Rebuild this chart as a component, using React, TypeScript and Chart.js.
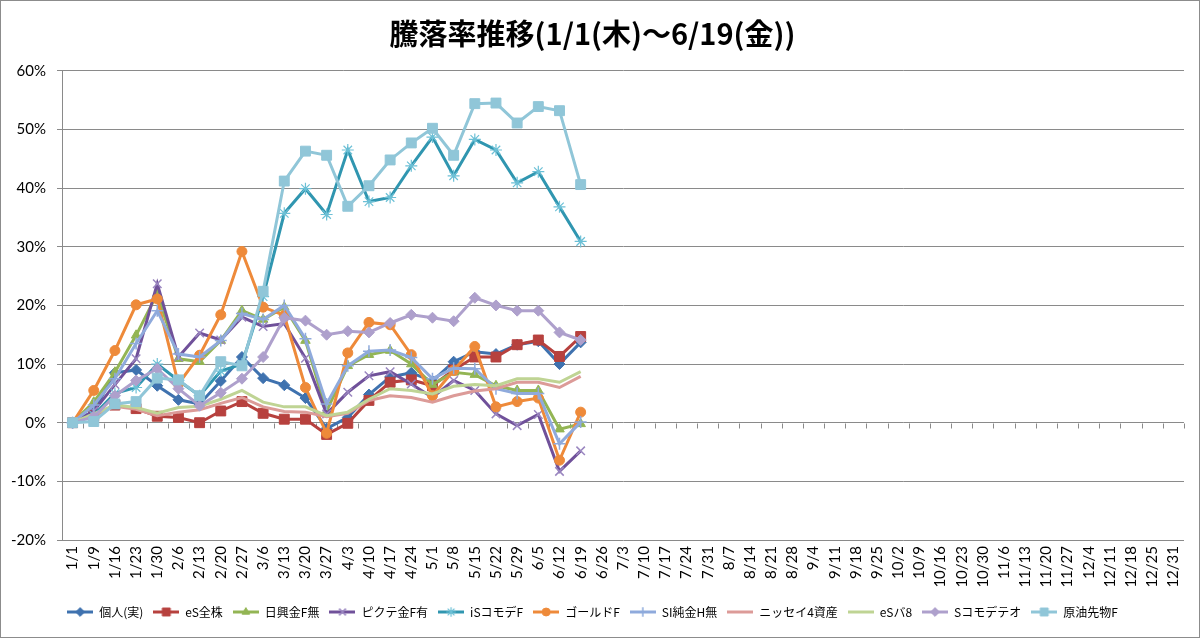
import { useEffect, useRef } from 'react'
import { Chart, registerables } from 'chart.js'
import { drawPoint } from 'chart.js/helpers'

Chart.register(...registerables)

const TITLE = '騰落率推移(1/1(木)～6/19(金))'

const WEEKS = [
  '1/1', '1/9', '1/16', '1/23', '1/30', '2/6', '2/13', '2/20', '2/27', '3/6', '3/13', '3/20', '3/27',
  '4/3', '4/10', '4/17', '4/24', '5/1', '5/8', '5/15', '5/22', '5/29', '6/5', '6/12', '6/19', '6/26',
  '7/3', '7/10', '7/17', '7/24', '7/31', '8/7', '8/14', '8/21', '8/28', '9/4', '9/11', '9/18', '9/25',
  '10/2', '10/9', '10/16', '10/23', '10/30', '11/6', '11/13', '11/20', '11/27', '12/4', '12/11', '12/18',
  '12/25', '12/31',
]

const Y_TICKS = { min: -20, max: 60, step: 10 }

// values in %, 1/1 .. 6/19
const KOJIN = [0, 2.0, 8.5, 9.0, 6.3, 3.9, 3.2, 7.1, 11.2, 7.6, 6.4, 4.2, -1.0, 0.9, 4.8, 7.8, 8.5, 7.1, 10.4, 12.1, 11.7, 13.3, 13.9, 10.0, 13.7]
const ES_ZENKABU = [0, 1.2, 3.0, 2.4, 1.1, 0.9, 0.0, 2.0, 3.6, 1.6, 0.6, 0.6, -2.0, -0.1, 3.8, 6.9, 7.3, 6.3, 9.0, 11.2, 11.2, 13.3, 14.1, 11.3, 14.7]
const NIKKO_KIN = [0, 3.5, 8.6, 14.9, 22.0, 10.9, 10.4, 14.0, 19.1, 17.6, 19.7, 14.0, 2.0, 9.7, 11.6, 12.3, 10.0, 6.5, 8.6, 8.2, 6.3, 5.5, 5.5, -1.1, -0.2]
const PICTET_KIN = [0, 2.0, 6.5, 10.9, 23.7, 11.2, 15.3, 14.1, 18.0, 16.4, 16.9, 11.0, 1.5, 5.2, 8.0, 8.7, 6.6, 4.3, 7.2, 5.5, 1.5, -0.5, 1.4, -8.3, -4.8]
const IS_COMMO = [0, 1.3, 5.0, 6.0, 10.0, 7.2, 4.6, 8.8, 10.0, 21.5, 35.7, 39.9, 35.5, 46.5, 37.7, 38.4, 43.8, 48.7, 42.1, 48.3, 46.5, 40.9, 42.8, 36.8, 30.9]
const GOLD = [0, 5.5, 12.3, 20.1, 21.1, 6.6, 11.5, 18.4, 29.2, 19.7, 18.3, 6.0, -1.8, 11.9, 17.1, 16.7, 11.6, 4.6, 8.9, 13.0, 2.7, 3.6, 4.2, -6.4, 1.8]
const SI_JUNKIN = [0, 3.0, 7.5, 13.5, 19.1, 11.7, 11.2, 14.0, 18.6, 17.6, 20.0, 14.3, 3.2, 9.7, 12.2, 12.4, 11.1, 7.5, 9.3, 9.2, 5.8, 5.0, 5.0, -3.6, 0.1]
const NISSAY_4 = [0, 1.3, 2.8, 2.3, 1.2, 1.8, 2.2, 3.3, 4.3, 2.7, 1.9, 1.8, 1.0, 1.6, 3.8, 4.6, 4.3, 3.5, 4.6, 5.4, 5.8, 6.9, 6.9, 6.0, 7.9]
const ES_BAL8 = [0, 1.5, 3.0, 2.6, 1.6, 2.6, 2.8, 4.0, 5.5, 3.5, 2.7, 2.7, 1.2, 1.8, 4.0, 5.8, 5.5, 4.9, 6.2, 6.5, 6.3, 7.5, 7.5, 6.9, 8.7]
const S_COMMO_TEO = [0, 1.0, 4.6, 7.2, 9.2, 5.8, 2.9, 5.1, 7.5, 11.2, 17.9, 17.4, 15.0, 15.6, 15.4, 17.0, 18.4, 17.9, 17.3, 21.3, 20.0, 19.1, 19.1, 15.4, 14.1]
const OIL = [0, 0.2, 3.2, 3.6, 7.6, 7.3, 4.6, 10.4, 9.7, 22.4, 41.2, 46.3, 45.6, 36.9, 40.4, 44.8, 47.7, 50.2, 45.6, 54.4, 54.5, 51.1, 53.9, 53.2, 40.6]

const SERIES = [
  { name: '個人(実)', data: KOJIN },
  { name: 'eS全株', data: ES_ZENKABU },
  { name: '日興金F無', data: NIKKO_KIN },
  { name: 'ピクテ金F有', data: PICTET_KIN },
  { name: 'iSコモデF', data: IS_COMMO },
  { name: 'ゴールドF', data: GOLD },
  { name: 'SI純金H無', data: SI_JUNKIN },
  { name: 'ニッセイ4資産', data: NISSAY_4 },
  { name: 'eSバ8', data: ES_BAL8 },
  { name: 'Sコモデテオ', data: S_COMMO_TEO },
  { name: '原油先物F', data: OIL },
]

// line colour, marker shape, marker radius, marker outline
const STYLES = [
  { color: '#3f72af', marker: 'rectRot', r: 5.5, edge: '#3f72af', ew: 1 },
  { color: '#b7413e', marker: 'rect', r: 7, edge: '#b7413e', ew: 1 },
  { color: '#93b554', marker: 'triangle', r: 5.5, edge: '#93b554', ew: 1 },
  { color: '#70519a', marker: 'crossRot', r: 6, edge: '#9a86c0', ew: 1.5 },
  { color: '#3096b0', marker: 'star', r: 6, edge: '#6cc0d6', ew: 1.2 },
  { color: '#ee8a3a', marker: 'circle', r: 5, edge: '#ee8a3a', ew: 1 },
  { color: '#8faadc', marker: 'cross', r: 6, edge: '#8faadc', ew: 1.5 },
  { color: '#dc9b98', marker: null, r: 0, edge: '#dc9b98', ew: 0 },
  { color: '#bfd494', marker: null, r: 0, edge: '#bfd494', ew: 0 },
  { color: '#aea0cc', marker: 'rectRot', r: 5.5, edge: '#aea0cc', ew: 1 },
  { color: '#90c6d8', marker: 'rect', r: 7, edge: '#90c6d8', ew: 1 },
]

const GRID = '#8a8a8a'
const TICK_FONT = { family: 'Lato', size: 15 }

function legendIcon(s: typeof STYLES[number]) {
  const c = document.createElement('canvas')
  c.width = 26
  c.height = 12
  const ctx = c.getContext('2d')!
  ctx.strokeStyle = s.color
  ctx.lineWidth = 3
  ctx.beginPath()
  ctx.moveTo(0, 6)
  ctx.lineTo(26, 6)
  ctx.stroke()
  if (s.marker) {
    ctx.fillStyle = s.color
    ctx.strokeStyle = s.edge
    ctx.lineWidth = s.ew
    drawPoint(ctx, { pointStyle: s.marker, radius: s.r * 0.8, rotation: 0, borderWidth: s.ew } as any, 13, 6)
  }
  return c
}

// short tick marks on the 0% line, between categories (Excel category axis)
const zeroAxisTicks = {
  id: 'zeroAxisTicks',
  beforeDatasetsDraw(chart: Chart) {
    const { ctx } = chart
    const x = chart.scales.x
    const y = chart.scales.y
    const y0 = Math.round(y.getPixelForValue(0)) + 0.5
    const half = (x.getPixelForValue(1) - x.getPixelForValue(0)) / 2
    ctx.save()
    ctx.strokeStyle = GRID
    ctx.lineWidth = 1
    ctx.beginPath()
    for (let i = 0; i <= WEEKS.length; i++) {
      const px = Math.round(x.getPixelForValue(i) - half) + 0.5
      ctx.moveTo(px, y0)
      ctx.lineTo(px, y0 + 5)
    }
    ctx.stroke()
    ctx.restore()
  },
}

export default function App() {
  const ref = useRef<HTMLCanvasElement>(null)

  useEffect(() => {
    if (!ref.current) return
    const icons = STYLES.map(legendIcon)
    const n = SERIES.length

    const chart = new Chart(ref.current, {
      type: 'line',
      data: {
        labels: WEEKS,
        datasets: SERIES.map((s, i) => {
          const st = STYLES[i]
          return {
            label: s.name,
            data: s.data,
            order: n - i,
            borderColor: st.color,
            backgroundColor: st.color,
            borderWidth: 3,
            tension: 0,
            pointStyle: (st.marker ?? 'line') as any,
            pointRadius: st.r,
            pointHoverRadius: st.r,
            pointBackgroundColor: st.color,
            pointBorderColor: st.edge,
            pointBorderWidth: st.ew,
          }
        }),
      },
      options: {
        responsive: false,
        animation: false,
        layout: { padding: { left: 0, right: 15, top: 0, bottom: 9 } },
        plugins: {
          title: {
            display: true,
            text: TITLE,
            color: '#000',
            font: { family: 'Noto Sans CJK JP', size: 29, weight: 'bold', lineHeight: 1.2 },
            padding: { top: 16, bottom: 19 },
          },
          legend: {
            position: 'bottom',
            labels: {
              color: '#000',
              font: { family: 'Noto Sans CJK JP', size: 12 },
              usePointStyle: true,
              pointStyleWidth: 26,
              boxHeight: 12,
              padding: 10,
              sort: (a, b) => (a.datasetIndex ?? 0) - (b.datasetIndex ?? 0),
              generateLabels: (c) =>
                Chart.defaults.plugins.legend.labels
                  .generateLabels(c)
                  .map((item) => ({ ...item, pointStyle: icons[item.datasetIndex ?? 0] as any })),
            },
          },
          tooltip: { enabled: false },
        },
        scales: {
          x: {
            type: 'category',
            offset: true,
            grid: { display: false, drawTicks: false },
            border: { display: false },
            ticks: {
              autoSkip: false,
              maxRotation: 90,
              minRotation: 90,
              padding: 6,
              color: '#000',
              font: TICK_FONT,
            },
            afterFit: (s) => {
              s.height = 56
            },
          },
          y: {
            min: Y_TICKS.min,
            max: Y_TICKS.max,
            ticks: {
              stepSize: Y_TICKS.step,
              padding: 11,
              color: '#000',
              font: TICK_FONT,
              callback: (v) => `${v}%`,
            },
            grid: { color: GRID, tickLength: 5 },
            border: { color: GRID },
            afterFit: (s) => {
              s.width = 61
            },
          },
        },
      },
      plugins: [zeroAxisTicks],
    })
    return () => chart.destroy()
  }, [])

  return (
    <div
      style={{
        position: 'fixed',
        left: 0,
        top: 0,
        width: 1200,
        height: 638,
        boxSizing: 'border-box',
        border: '1px solid #8c8c8c',
        background: '#fff',
      }}
    >
      <canvas ref={ref} width={1198} height={636} style={{ display: 'block' }} role="img" aria-label={TITLE} />
    </div>
  )
}
